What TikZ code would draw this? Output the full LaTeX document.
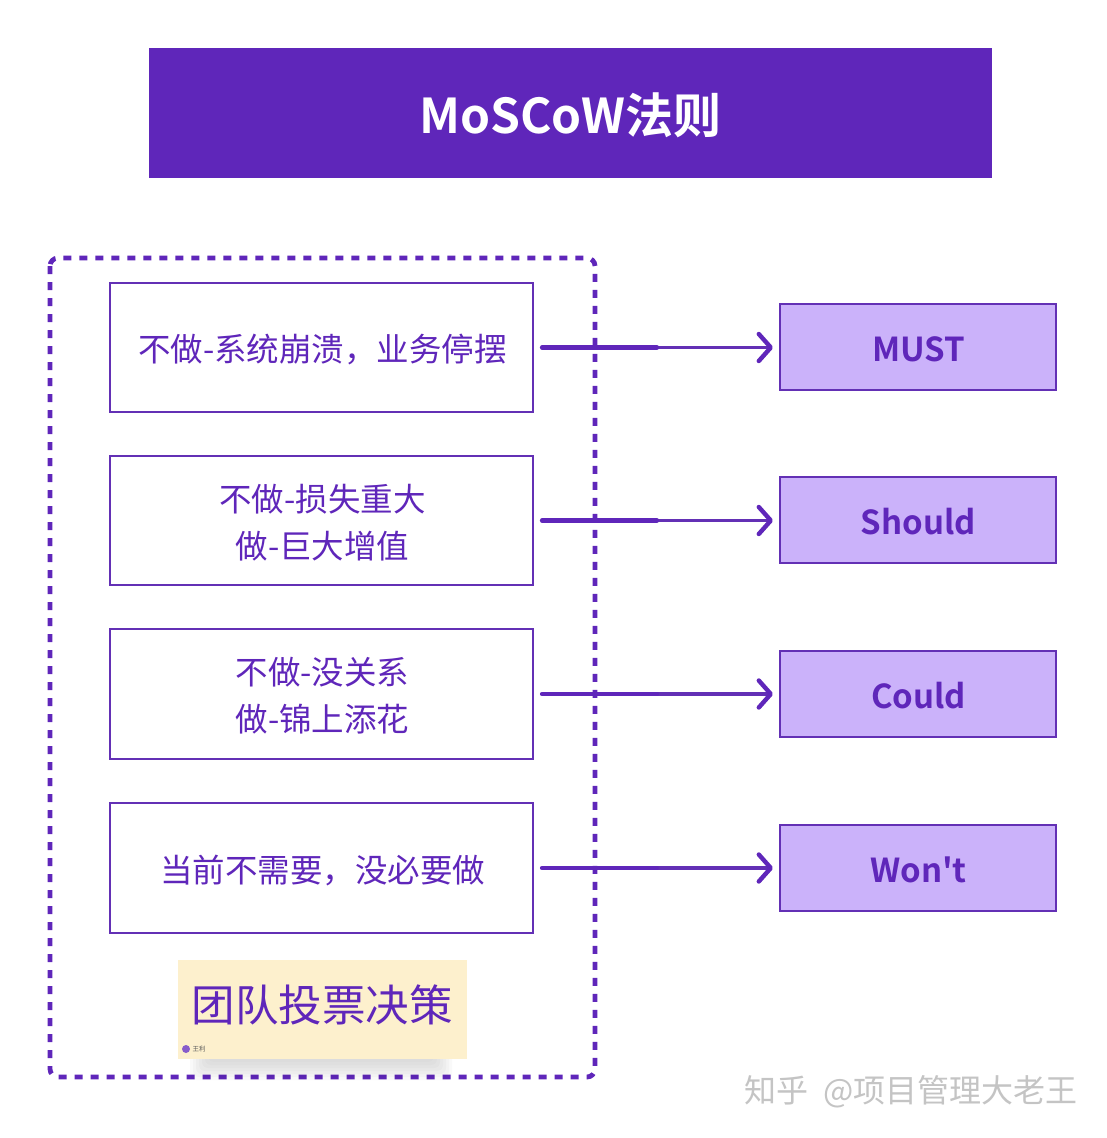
\documentclass[tikz,border=0pt]{standalone}
\usepackage{fontspec}
\setmainfont{Noto Sans CJK SC}
\newfontfamily\cjkbold{Noto Sans CJK SC Bold}
\usetikzlibrary{arrows.meta}
\definecolor{deep}{HTML}{5F26BA}
\definecolor{line}{HTML}{6330B5}
\definecolor{soft}{HTML}{CBB2FA}
\definecolor{paper}{HTML}{FDF0CD}
\definecolor{mark}{HTML}{C4C4C4}
\tikzset{
  x=1pt,y=-1pt,
  leftbox/.style={draw=line,line width=2pt,fill=white,minimum width=423pt,minimum height=129.5pt,inner sep=0pt},
  lefttext/.style={text=deep,align=center,inner sep=0pt,font=\fontsize{32.5}{47}\selectfont},
  rightbox/.style={draw=line,line width=2pt,fill=soft,minimum width=276pt,minimum height=86pt,inner sep=0pt},
  righttext/.style={text=deep,inner sep=0pt,font=\cjkbold\fontsize{33}{40}\selectfont},
  thickpart/.style={draw=deep,line width=4.2pt,line cap=round,shorten <=8pt},
  thinpart/.style={draw=line,line width=3.4pt,line cap=round,shorten >=6pt,
    -{Straight Barb[length=12pt,width=27pt,line width=4.4pt,round,color=deep]}},
}
\begin{document}
\begin{tikzpicture}
\useasboundingbox (0,0) rectangle (1106,1138);
\fill[white] (0,0) rectangle (1106,1138);

\node[fill=deep,minimum width=843pt,minimum height=130pt,inner sep=0pt] (title) at (570.5,113) {};
\node[text=white,inner sep=0pt,font=\cjkbold\fontsize{48}{54}\selectfont] (titletext) at (570.5,115) {MoSCoW法则};

\draw[deep,line width=4.8pt,dash pattern=on 8pt off 8pt,rounded corners=8pt] (50,258) rectangle (595,1077);

\node[leftbox] (a1) at (321.5,347.5) {};
\node[leftbox] (a2) at (321.5,520.5) {};
\node[leftbox] (a3) at (321.5,694) {};
\node[leftbox] (a4) at (321.5,868) {};
\node[lefttext] (t1) at (322.5,349.5) {不做-系统崩溃，业务停摆};
\node[lefttext] (t2) at (322.5,522.5) {不做-损失重大\\做-巨大增值};
\node[lefttext] (t3) at (322.5,696) {不做-没关系\\做-锦上添花};
\node[lefttext] (t4) at (322.5,870) {当前不需要，没必要做};

\node[rightbox] (b1) at (918,347) {};
\node[rightbox] (b2) at (918,520) {};
\node[rightbox] (b3) at (918,694) {};
\node[rightbox] (b4) at (918,868) {};
\node[righttext] (r1) at (918.5,349) {MUST};
\node[righttext] (r2) at (918.5,522) {Should};
\node[righttext] (r3) at (918.5,696) {Could};
\node[righttext] (r4) at (918.5,870) {Won't};

\foreach \i/\yy in {1/347.5,2/520.5,3/694,4/868}{
  \coordinate (m\i) at (657,\yy);
  \draw[thinpart] (m\i) -- (b\i.west |- m\i);
  \draw[thickpart] (a\i.east) -- (m\i);
}

% soft shadow beneath the note
\foreach \o/\g in {0/25,3/25,6/25,9/20,12/20,15/15,18/10}{
  \fill[black,opacity=0.0\g,rounded corners=6pt] (190+\o,1046) rectangle (452-\o,1080-\o);
}
\node[fill=paper,minimum width=289pt,minimum height=99pt,inner sep=0pt] (note) at (322.5,1009.5) {};
\node[text=deep,font=\fontsize{43.5}{50}\selectfont,inner sep=0pt] (notetext) at (322,1005) {团队投票决策};
\node[circle,fill=deep!75!white,minimum size=8pt,inner sep=0pt] (avatar) at (186,1049) {};
\node[text=black!65,font=\fontsize{6.5}{8}\selectfont,inner sep=0pt,anchor=west] (author) at (192.5,1049.5) {王利};

\node[text=mark,font=\fontsize{32}{36}\selectfont,inner sep=0pt] (wm) at (911,1092) {知乎\ \ @项目管理大老王};
\end{tikzpicture}
\end{document}
